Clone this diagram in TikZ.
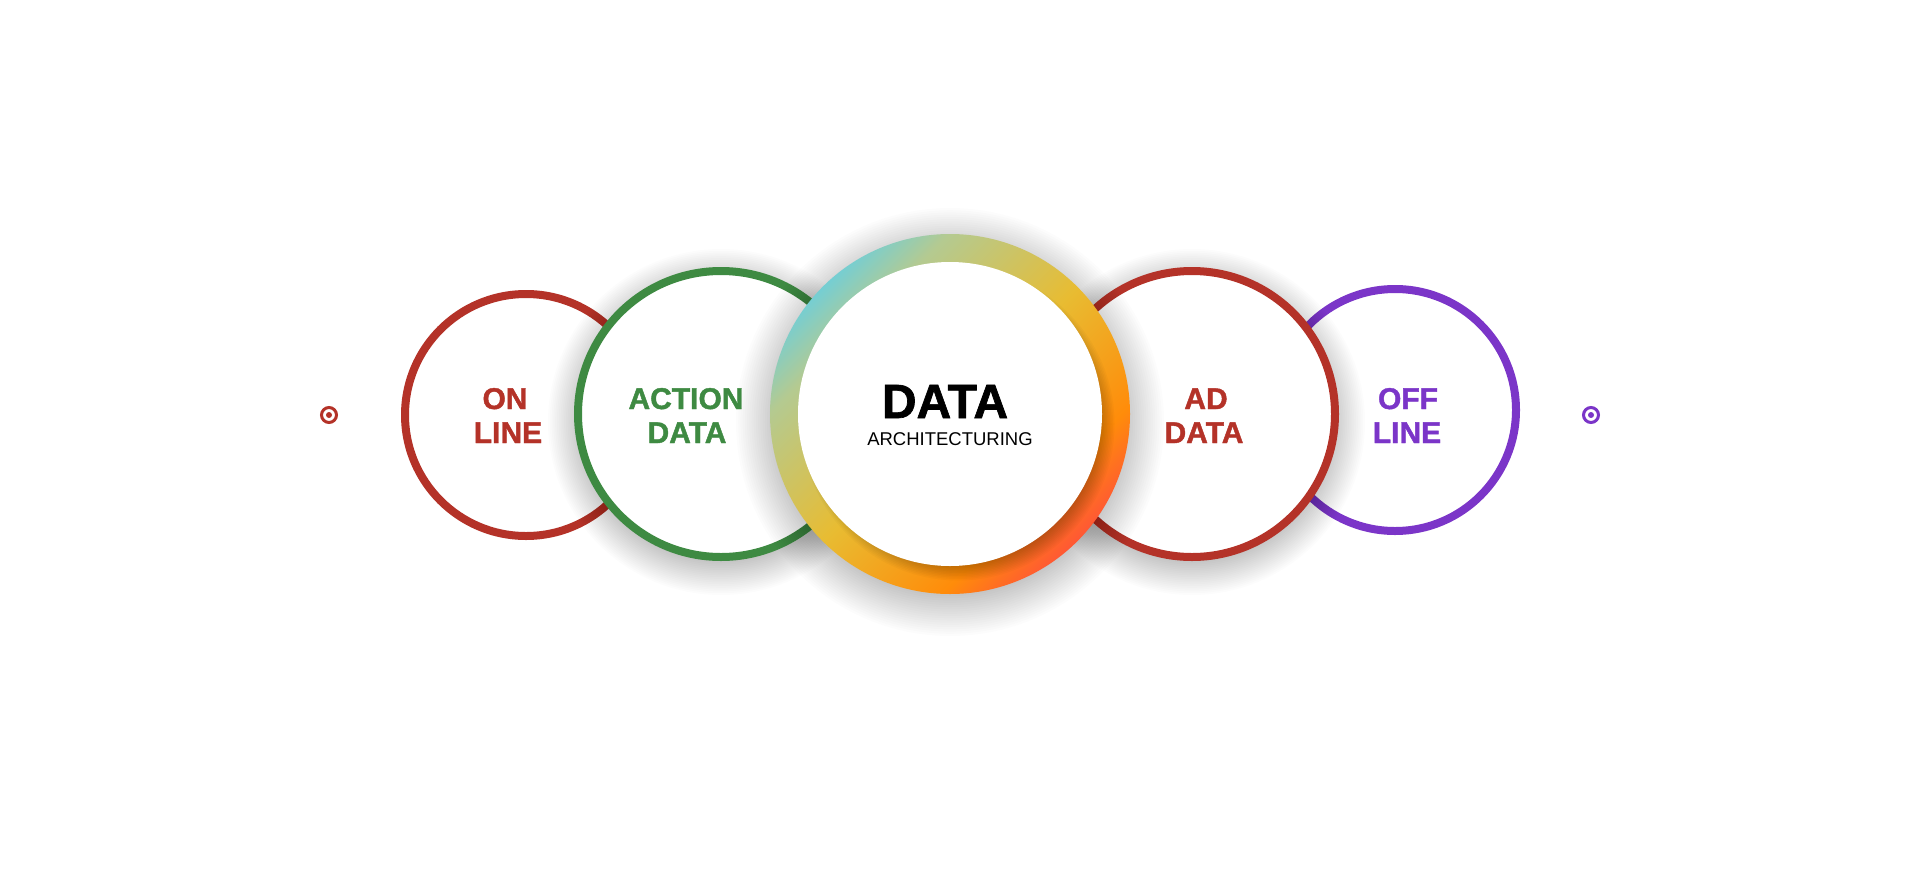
\documentclass[tikz,border=0pt]{standalone}
\usepackage{fontspec}
\setmainfont{Liberation Sans}
\newfontfamily\heavyfont{Liberation Sans}[UprightFont={* Bold}, FakeBold=1.4]
\definecolor{cred}{RGB}{180,50,40}
\definecolor{cgreen}{RGB}{62,138,66}
\definecolor{cpurple}{RGB}{123,53,200}
\definecolor{ga}{RGB}{118,206,210}
\definecolor{gb}{RGB}{180,202,145}
\definecolor{gc}{RGB}{232,188,50}
\definecolor{gd}{RGB}{255,140,10}
\definecolor{ge}{RGB}{255,88,52}
\pgfdeclarehorizontalshading{ringgrad}{100bp}{color(0bp)=(ga); color(25bp)=(ga); color(32bp)=(gb); color(50bp)=(gc); color(67bp)=(gd); color(75bp)=(ge); color(100bp)=(ge)}
\newcommand\mydropshadow[4]{%
  \foreach \k in {0,...,19}{%
    \fill[black,opacity=0.012] (#1,#2) circle ({#3-8+(#4+8)*\k/19});
  }}
\tikzset{
  ringnode/.style={circle, fill=white, line width=8pt, inner sep=0pt},
  lbl/.style={font=\heavyfont\fontsize{30}{30}\selectfont, anchor=base, inner sep=0pt},
  dotnode/.style={circle, line width=3pt, minimum size=15pt, inner sep=0pt, fill=white}
}
\begin{document}
\begin{tikzpicture}[x=1pt,y=-1pt]
\fill[white] (0,0) rectangle (1920,881);
\path[use as bounding box] (0,0) rectangle (1920,881);

% ON LINE
\node[ringnode, draw=cred, minimum size=242pt] (on) at (526,415) {};
% ACTION DATA
\mydropshadow{721}{422}{147}{26}
\node[ringnode, draw=cgreen, minimum size=286pt] (action) at (721,414) {};
% OFF LINE
\node[ringnode, draw=cpurple, minimum size=242pt] (off) at (1395,410) {};
% AD DATA
\mydropshadow{1192}{422}{147}{26}
\node[ringnode, draw=cred, minimum size=286pt] (ad) at (1192,414) {};

% center
\mydropshadow{950}{422}{180}{34}
\shade[shading=ringgrad, shading angle=-45] (950,414) circle (180);
\begin{scope}
  \clip (950,414) circle (180);
  \foreach \k in {0,...,11}{\fill[black,opacity=0.022] (958,424) circle ({140+\k*1.5});}
\end{scope}
\node[circle, fill=white, minimum size=304pt, inner sep=0pt] (center) at (950,414) {};

% labels
\node[lbl, text=cred] (on1) at (505,409) {ON};
\node[lbl, text=cred] (on2) at (508,443) {LINE};
\node[lbl, text=cgreen] (ac1) at (686,409) {ACTION};
\node[lbl, text=cgreen] (ac2) at (687,443) {DATA};
\node[lbl, text=cred] (ad1) at (1206,409) {AD};
\node[lbl, text=cred] (ad2) at (1204,443) {DATA};
\node[lbl, text=cpurple] (off1) at (1408,409) {OFF};
\node[lbl, text=cpurple] (off2) at (1407,443) {LINE};
\node[font=\heavyfont\fontsize{48}{48}\selectfont, anchor=base, inner sep=0pt] (dt) at (945,418) {DATA};
\node[font=\fontsize{18.5}{18.5}\selectfont, anchor=base, inner sep=0pt] (arch) at (950,445) {ARCHITECTURING};

% dots
\node[dotnode, draw=cred] (ldot) at (329,415) {};
\fill[cred] (ldot.center) circle (3);
\node[dotnode, draw=cpurple] (rdot) at (1591,415) {};
\fill[cpurple] (rdot.center) circle (3);
\end{tikzpicture}
\end{document}
